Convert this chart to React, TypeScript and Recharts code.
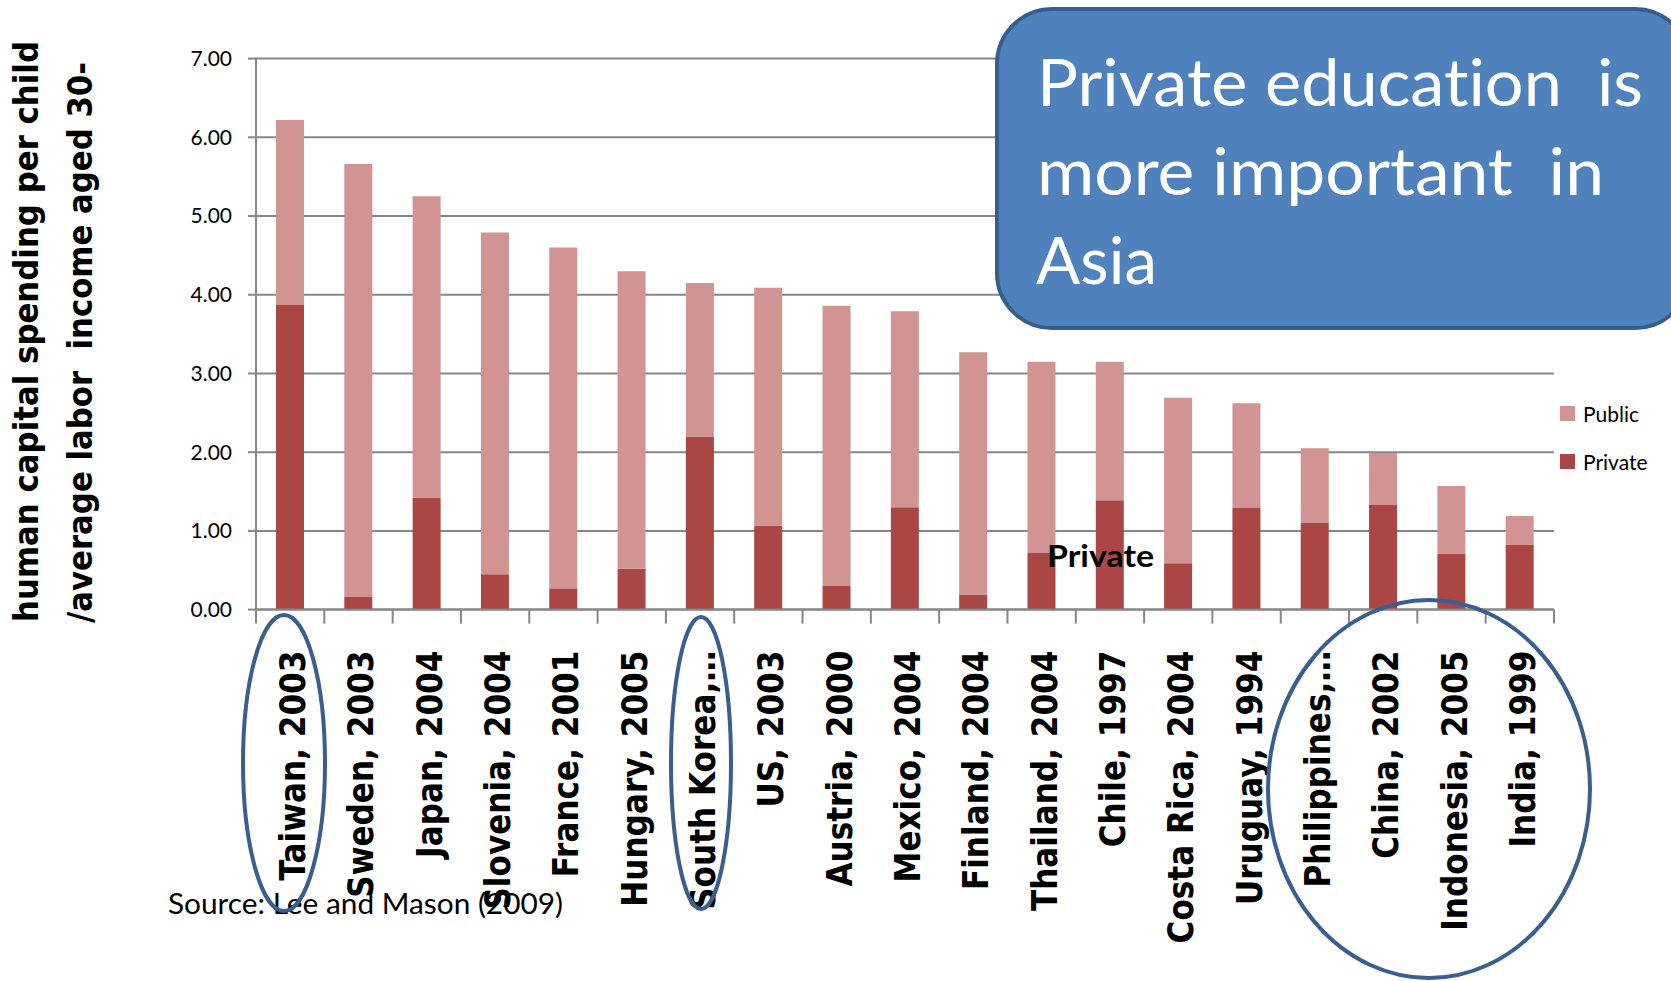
import React from "react"
import { BarChart, Bar, XAxis, YAxis, CartesianGrid, Legend } from "recharts"

// values
const countries = [
  "Taiwan, 2003",
  "Sweden, 2003",
  "Japan, 2004",
  "Slovenia, 2004",
  "France, 2001",
  "Hungary, 2005",
  "South Korea,…",
  "US, 2003",
  "Austria, 2000",
  "Mexico, 2004",
  "Finland, 2004",
  "Thailand, 2004",
  "Chile, 1997",
  "Costa Rica, 2004",
  "Uruguay, 1994",
  "Philippines,…",
  "China, 2002",
  "Indonesia, 2005",
  "India, 1999",
]
const privateValues = [3.87, 0.16, 1.42, 0.45, 0.27, 0.52, 2.2, 1.07, 0.3, 1.3, 0.19, 0.72, 1.39, 0.59, 1.29, 1.1, 1.33, 0.71, 0.82]
const publicValues = [2.35, 5.5, 3.83, 4.34, 4.33, 3.78, 1.95, 3.02, 3.56, 2.49, 3.08, 2.43, 1.76, 2.1, 1.33, 0.95, 0.66, 0.86, 0.37]
const yTicks = [0, 1, 2, 3, 4, 5, 6, 7]

const data = countries.map((name, i) => ({
  name,
  Private: privateValues[i],
  Public: publicValues[i],
}))

const W = 1671
const H = 981
const PLOT_LEFT = 256
const PLOT_RIGHT = 1554
const PLOT_TOP = 58.6
const PLOT_BOTTOM = 609.6
const HALF_BAND = (PLOT_RIGHT - PLOT_LEFT) / countries.length / 2

const GRID = "#868686"
const PRIVATE_COLOR = "#AA4643"
const PUBLIC_COLOR = "#D29393"
const RING = "#3A5F8F"

const noLig = { whiteSpace: "pre" as const, fontVariantLigatures: "none" as const }

function CountryTick(props: any) {
  const { x, y, payload, index } = props
  const last = index === countries.length - 1
  return (
    <g>
      <line x1={x - HALF_BAND} x2={x - HALF_BAND} y1={y} y2={y + 14} stroke={GRID} strokeWidth={2} />
      {last && <line x1={x + HALF_BAND} x2={x + HALF_BAND} y1={y} y2={y + 14} stroke={GRID} strokeWidth={2} />}
      <text
        transform={`translate(${x + 15},${y + 41}) rotate(-90) scale(0.865,1)`}
        textAnchor="end"
        fontFamily="DejaVu Sans"
        fontWeight="bold"
        fontSize={36}
        fill="#000"
      >
        {payload.value}
      </text>
    </g>
  )
}

function LegendBox(props: any) {
  const order = ["Public", "Private"]
  const items = [...(props.payload || [])].sort(
    (a: any, b: any) => order.indexOf(a.value) - order.indexOf(b.value)
  )
  return (
    <div style={{ fontFamily: "Lato", fontSize: 21, color: "#000" }}>
      {items.map((it: any) => (
        <div key={it.value} style={{ display: "flex", alignItems: "center", height: 24, marginBottom: 24 }}>
          <span style={{ width: 15, height: 15, background: it.color, display: "inline-block", marginRight: 8 }} />
          <span>{it.value}</span>
        </div>
      ))}
    </div>
  )
}

export default function App() {
  return (
    <div style={{ position: "absolute", left: 0, top: 0, width: W, height: H, background: "#fff" }}>
      <BarChart
        width={W}
        height={H}
        data={data}
        margin={{ top: PLOT_TOP, right: W - PLOT_RIGHT, left: 0, bottom: 0 }}
      >
        <CartesianGrid vertical={false} stroke={GRID} strokeWidth={2} />
        <XAxis
          dataKey="name"
          interval={0}
          height={H - PLOT_BOTTOM}
          tickSize={0}
          tickMargin={0}
          tickLine={false}
          axisLine={{ stroke: GRID, strokeWidth: 2 }}
          tick={<CountryTick />}
        />
        <YAxis
          width={PLOT_LEFT}
          domain={[0, 7]}
          ticks={yTicks}
          interval={0}
          tickFormatter={(v: number) => v.toFixed(2)}
          tickSize={8}
          tickMargin={16}
          tickLine={{ stroke: GRID, strokeWidth: 2 }}
          axisLine={{ stroke: GRID, strokeWidth: 2 }}
          tick={{ fill: "#000", fontSize: 21, fontFamily: "Lato" }}
        />
        <Legend
          layout="vertical"
          align="center"
          verticalAlign="middle"
          content={<LegendBox />}
          wrapperStyle={{ position: "absolute", left: 1560, top: 401, width: 111 }}
        />
        <Bar dataKey="Private" stackId="a" fill={PRIVATE_COLOR} barSize={28} isAnimationActive={false} />
        <Bar dataKey="Public" stackId="a" fill={PUBLIC_COLOR} barSize={28} isAnimationActive={false} />
      </BarChart>

      <svg
        width={W}
        height={H}
        style={{ position: "absolute", left: 0, top: 0, pointerEvents: "none" }}
      >
        {/* y axis title */}
        <text
          transform="translate(38,622) rotate(-90)"
          fontFamily="DejaVu Sans"
          fontWeight="bold"
          fontSize={34}
          textLength={581}
          lengthAdjust="spacingAndGlyphs"
          xmlSpace="preserve"
          style={noLig}
        >
          human capital spending per child
        </text>
        <text
          transform="translate(92,623) rotate(-90)"
          fontFamily="DejaVu Sans"
          fontWeight="bold"
          fontSize={34}
          textLength={561}
          lengthAdjust="spacingAndGlyphs"
          xmlSpace="preserve"
          style={noLig}
        >
          /average labor  income aged 30-
        </text>

        {/* callout box */}
        <rect x={997} y={9} width={693} height={319} rx={55} ry={55} fill="#4F81BD" stroke="#385D8A" strokeWidth={4} />
        <g fill="#fff" fontFamily="Lato" fontSize={66}>
          <text x={1037} y={106} textLength={606} lengthAdjust="spacingAndGlyphs" xmlSpace="preserve" style={noLig}>
            {"Private education  is"}
          </text>
          <text x={1037} y={195} textLength={567} lengthAdjust="spacingAndGlyphs" xmlSpace="preserve" style={noLig}>
            {"more important  in"}
          </text>
          <text x={1036} y={284} textLength={121} lengthAdjust="spacingAndGlyphs" style={noLig}>
            Asia
          </text>
        </g>

        <text x={1047} y={567} fontFamily="Lato" fontWeight="bold" fontSize={30} textLength={107} lengthAdjust="spacingAndGlyphs">
          Private
        </text>

        <text x={168} y={914} fontFamily="Lato" fontSize={28} textLength={395} lengthAdjust="spacingAndGlyphs">
          Source: Lee and Mason (2009)
        </text>

        {/* highlight rings */}
        <g fill="none" stroke={RING} strokeWidth={4}>
          <ellipse cx={284} cy={763} rx={41} ry={148} />
          <ellipse cx={701} cy={763} rx={30} ry={146} />
          <ellipse cx={1429} cy={789} rx={161} ry={189} />
        </g>
      </svg>
    </div>
  )
}
